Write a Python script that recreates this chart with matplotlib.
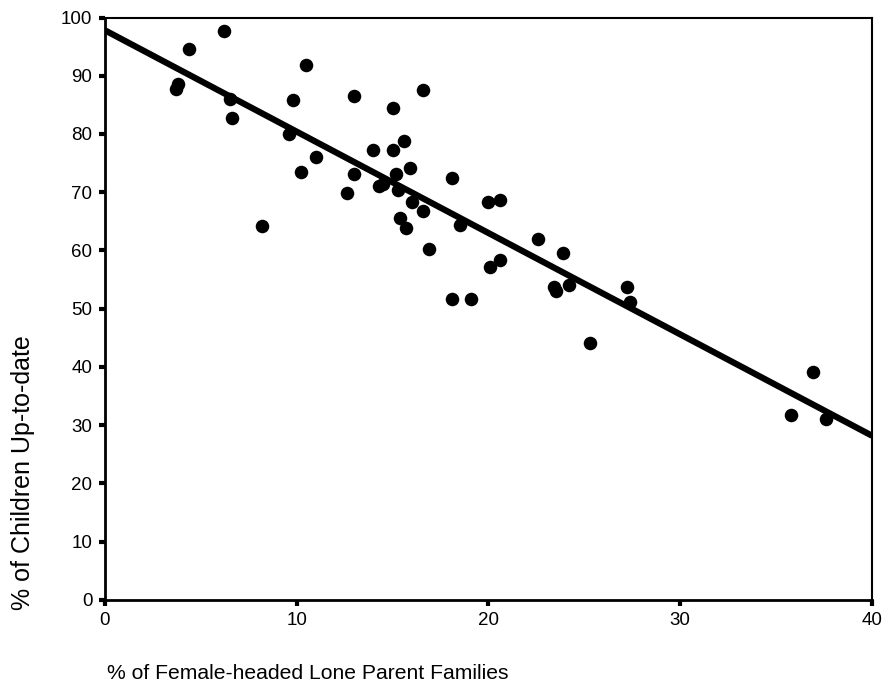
import numpy as np
import matplotlib
matplotlib.use("Agg")
import matplotlib.pyplot as plt

plt.rcParams['font.family'] = ['Liberation Sans', 'DejaVu Sans']

# % female-headed lone parent families vs % children up-to-date
lone_parent = [3.7, 3.8, 4.4, 6.2, 6.5, 6.6, 8.2, 9.6, 9.8, 10.2,
               10.5, 11.0, 12.6, 13.0, 13.0, 14.0, 14.3, 14.5, 15.0, 15.0,
               15.2, 15.3, 15.4, 15.6, 15.7, 15.9, 16.0, 16.6, 16.6, 16.9,
               18.1, 18.1, 18.5, 19.1, 20.0, 20.1, 20.6, 20.6, 22.6, 23.4,
               23.5, 23.9, 24.2, 25.3, 27.2, 27.4, 35.8, 36.9, 37.6]
up_to_date = [87.8, 88.5, 94.6, 97.6, 86.0, 82.8, 64.2, 80.0, 85.8, 73.4,
              91.9, 76.0, 69.8, 86.6, 73.1, 77.3, 71.0, 71.5, 84.4, 77.3,
              73.2, 70.4, 65.6, 78.8, 63.9, 74.2, 68.3, 87.6, 66.8, 60.2,
              72.5, 51.6, 64.4, 51.6, 68.3, 57.2, 68.6, 58.4, 61.9, 53.7,
              53.1, 59.6, 54.0, 44.2, 53.7, 51.2, 31.7, 39.2, 31.0]

# fitted line
intercept = 97.8
slope = -1.74

xticks = [0, 10, 20, 30, 40]
yticks = [0, 10, 20, 30, 40, 50, 60, 70, 80, 90, 100]

fig = plt.figure(figsize=(8.85, 6.89), dpi=100)
ax = fig.add_axes([0.1186, 0.1292, 0.8667, 0.8454])

ax.scatter(lone_parent, up_to_date, s=95, color='black', zorder=3, linewidths=0)

xl = np.array([0, 40])
ax.plot(xl, intercept + slope * xl, color='black', lw=4.5, solid_capstyle='butt', zorder=2)

ax.set_xlim(0, 40)
ax.set_ylim(0, 100)
ax.set_xticks(xticks)
ax.set_yticks(yticks)
ax.tick_params(direction='out', length=4, width=3, labelsize=13.5, pad=5, color='black')

for side in ['left', 'bottom']:
    ax.spines[side].set_linewidth(2)
for side in ['top', 'right']:
    ax.spines[side].set_linewidth(1.5)

fig.text(0.026, 0.115, '% of Children Up-to-date', rotation=90,
         ha='center', va='bottom', fontsize=18)
fig.text(0.121, 0.023, '% of Female-headed Lone Parent Families',
         ha='left', va='center', fontsize=15.2)

fig.savefig('out.png', dpi=100)
